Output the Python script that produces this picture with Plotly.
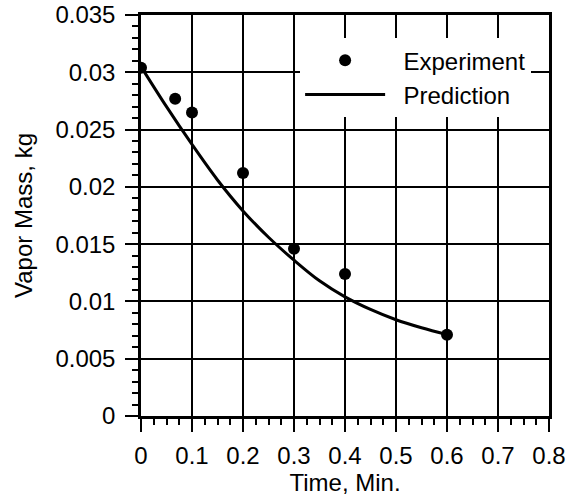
import plotly.graph_objects as go

# Experiment data
exp_time = [0.0, 0.067, 0.1, 0.2, 0.3, 0.4, 0.6]
exp_mass = [0.0304, 0.0277, 0.0265, 0.0212, 0.0146, 0.0124, 0.0071]

# Prediction curve
pred_time = [0.0, 0.05, 0.1, 0.15, 0.2, 0.25, 0.3, 0.35, 0.4, 0.45, 0.5, 0.55, 0.6]
pred_mass = [0.0305, 0.0270, 0.0237, 0.0206, 0.0179, 0.0156, 0.0136, 0.0118,
             0.0104, 0.0093, 0.0084, 0.0077, 0.0071]

x_tickvals = [0, 0.1, 0.2, 0.3, 0.4, 0.5, 0.6, 0.7, 0.8]
x_ticktext = ["0", "0.1", "0.2", "0.3", "0.4", "0.5", "0.6", "0.7", "0.8"]
y_tickvals = [0, 0.005, 0.01, 0.015, 0.02, 0.025, 0.03, 0.035]
y_ticktext = ["0", "0.005", "0.01", "0.015", "0.02", "0.025", "0.03", "0.035"]

FONT = "Liberation Sans, Arial, Helvetica, sans-serif"

fig = go.Figure()
fig.add_trace(go.Scatter(
    x=exp_time, y=exp_mass, mode="markers", name="\u00a0\u00a0Experiment",
    marker=dict(color="black", size=12),
))
fig.add_trace(go.Scatter(
    x=pred_time, y=pred_mass, mode="lines", name="\u00a0\u00a0Prediction",
    line=dict(color="black", width=3, shape="spline", smoothing=1.0),
))

axis_common = dict(
    showline=True, linecolor="black", linewidth=2.5, mirror=True,
    showgrid=True, gridcolor="black", gridwidth=2.4,
    zeroline=False,
    ticks="outside", ticklen=13, tickwidth=2.4, tickcolor="black",
    tickfont=dict(family=FONT, size=24, color="black"),
)

fig.update_xaxes(
    range=[0, 0.8], tickvals=x_tickvals, ticktext=x_ticktext,
    title=dict(text="Time, Min.", font=dict(family=FONT, size=24, color="black"), standoff=6),
    minor=dict(dtick=0.025, ticks="outside", ticklen=6, tickwidth=2, tickcolor="black", showgrid=False),
    ticklabelstandoff=3,
    **axis_common,
)
fig.update_yaxes(
    range=[0, 0.035], tickvals=y_tickvals, ticktext=y_ticktext,
    title=dict(text="Vapor Mass, kg", font=dict(family=FONT, size=24, color="black"), standoff=16),
    minor=dict(dtick=0.001, ticks="outside", ticklen=6, tickwidth=2, tickcolor="black", showgrid=False),
    ticklabelstandoff=5,
    **axis_common,
)

fig.update_layout(
    width=570, height=501,
    margin=dict(l=141, r=21, t=15, b=85, autoexpand=False),
    plot_bgcolor="white", paper_bgcolor="white",
    font=dict(family=FONT, color="black"),
    showlegend=True,
    legend=dict(
        x=0.39, y=0.942, xanchor="left", yanchor="top",
        bgcolor="white", borderwidth=0,
        font=dict(family=FONT, size=24, color="black"),
        itemwidth=80, tracegroupgap=0,
    ),
)

fig.write_html("out.html")
